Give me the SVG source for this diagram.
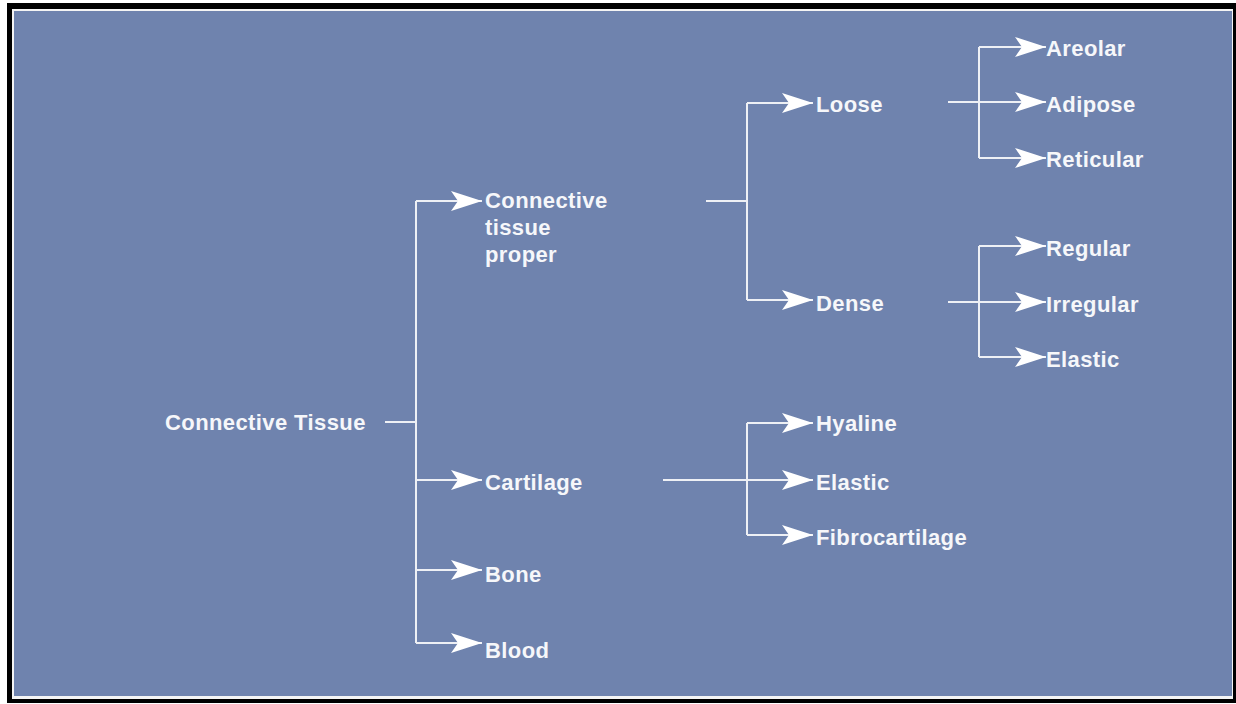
<svg xmlns="http://www.w3.org/2000/svg" width="1236" height="704" viewBox="0 0 1236 704">
<style>
.lbl{font-family:"Liberation Sans",Arial,sans-serif;font-weight:bold;font-size:22px;letter-spacing:0.4px;fill:#f6f7fa}
.ln{fill:none;stroke:#eef0f5;stroke-width:2}
</style>
<defs>
<marker id="ah" markerUnits="userSpaceOnUse" markerWidth="34" markerHeight="24" refX="32" refY="11" orient="auto" viewBox="0 0 34 24">
<path d="M32,11 L1,1 L8,11 L1,21 Z" fill="#ffffff"/>
</marker>
</defs>
<rect x="0" y="0" width="1236" height="704" fill="#ffffff"/>
<rect x="7" y="3" width="1229" height="700" fill="#000000"/>
<rect x="12" y="9" width="1221" height="690" fill="#f4f4f4"/>
<rect x="14" y="11" width="1218" height="685" fill="#6f83ae"/>
<g id="connectors">
<path class="ln" d="M385,422 H416 M416,201 V643"/>
<path class="ln" d="M416,201 H482" marker-end="url(#ah)"/>
<path class="ln" d="M416,480 H482" marker-end="url(#ah)"/>
<path class="ln" d="M416,570 H482" marker-end="url(#ah)"/>
<path class="ln" d="M416,643 H482" marker-end="url(#ah)"/>
<path class="ln" d="M706,201 H747 M747,103 V300"/>
<path class="ln" d="M747,103 H813" marker-end="url(#ah)"/>
<path class="ln" d="M747,300 H813" marker-end="url(#ah)"/>
<path class="ln" d="M747,423 V535"/>
<path class="ln" d="M663,480 H813" marker-end="url(#ah)"/>
<path class="ln" d="M747,423 H813" marker-end="url(#ah)"/>
<path class="ln" d="M747,535 H813" marker-end="url(#ah)"/>
<path class="ln" d="M979,47 V158"/>
<path class="ln" d="M948,102 H1046" marker-end="url(#ah)"/>
<path class="ln" d="M979,47 H1046" marker-end="url(#ah)"/>
<path class="ln" d="M979,158 H1046" marker-end="url(#ah)"/>
<path class="ln" d="M979,246 V357"/>
<path class="ln" d="M948,302 H1046" marker-end="url(#ah)"/>
<path class="ln" d="M979,246 H1046" marker-end="url(#ah)"/>
<path class="ln" d="M979,357 H1046" marker-end="url(#ah)"/>
</g>
<g id="n-connective-tissue"><text class="lbl" x="165" y="430">Connective Tissue</text></g>
<g id="n-ctp"><text class="lbl" x="485" y="208">Connective</text><text class="lbl" x="485" y="235">tissue</text><text class="lbl" x="485" y="262">proper</text></g>
<g id="n-cartilage"><text class="lbl" x="485" y="490">Cartilage</text></g>
<g id="n-bone"><text class="lbl" x="485" y="582">Bone</text></g>
<g id="n-blood"><text class="lbl" x="485" y="658">Blood</text></g>
<g id="n-loose"><text class="lbl" x="816" y="112">Loose</text></g>
<g id="n-dense"><text class="lbl" x="816" y="311">Dense</text></g>
<g id="n-hyaline"><text class="lbl" x="816" y="431">Hyaline</text></g>
<g id="n-elastic-c"><text class="lbl" x="816" y="490">Elastic</text></g>
<g id="n-fibro"><text class="lbl" x="816" y="545">Fibrocartilage</text></g>
<g id="n-areolar"><text class="lbl" x="1046" y="56">Areolar</text></g>
<g id="n-adipose"><text class="lbl" x="1046" y="112">Adipose</text></g>
<g id="n-reticular"><text class="lbl" x="1046" y="167">Reticular</text></g>
<g id="n-regular"><text class="lbl" x="1046" y="256">Regular</text></g>
<g id="n-irregular"><text class="lbl" x="1046" y="312">Irregular</text></g>
<g id="n-elastic-d"><text class="lbl" x="1046" y="367">Elastic</text></g>
</svg>
